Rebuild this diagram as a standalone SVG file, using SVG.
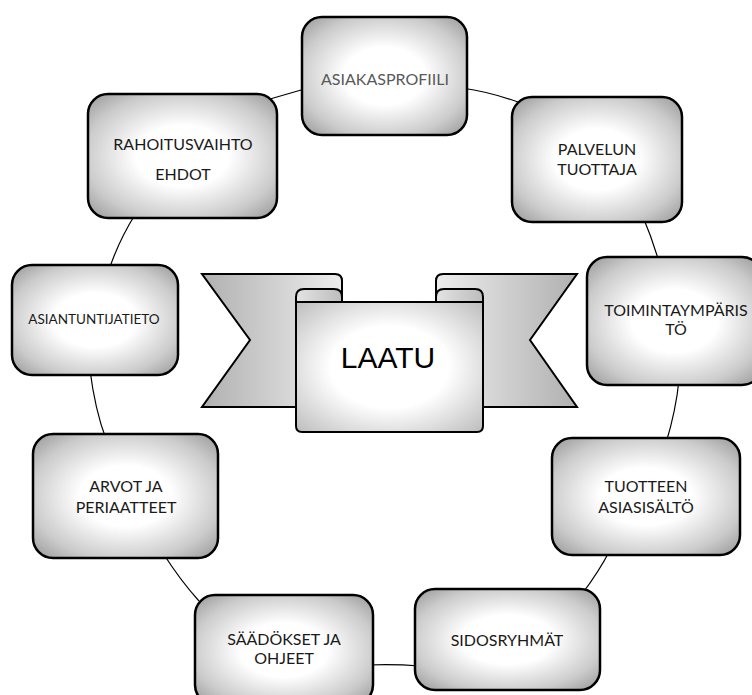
<svg xmlns="http://www.w3.org/2000/svg" width="752" height="695" viewBox="0 0 752 695">
<defs>
  <radialGradient id="boxg" cx="50%" cy="50%" r="70%">
    <stop offset="0" stop-color="#ffffff"/>
    <stop offset="0.35" stop-color="#ffffff"/>
    <stop offset="0.74" stop-color="#cbcbcb"/>
    <stop offset="1" stop-color="#979797"/>
  </radialGradient>
  <radialGradient id="panelg" cx="50%" cy="50%" r="70%">
    <stop offset="0" stop-color="#ffffff"/>
    <stop offset="0.45" stop-color="#ffffff"/>
    <stop offset="1" stop-color="#bdbdbd"/>
  </radialGradient>
  <linearGradient id="tailL" gradientUnits="userSpaceOnUse" x1="202" y1="0" x2="342" y2="0">
    <stop offset="0" stop-color="#b0b0b0"/>
    <stop offset="1" stop-color="#eeeeee"/>
  </linearGradient>
  <linearGradient id="tailR" gradientUnits="userSpaceOnUse" x1="436" y1="0" x2="577" y2="0">
    <stop offset="0" stop-color="#eeeeee"/>
    <stop offset="1" stop-color="#b0b0b0"/>
  </linearGradient>
  <linearGradient id="rollg" x1="0" y1="0" x2="1" y2="0">
    <stop offset="0" stop-color="#e4e4e4"/>
    <stop offset="1" stop-color="#bcbcbc"/>
  </linearGradient>
</defs>
<style>
  .box { fill: url(#boxg); stroke: #000; stroke-width: 2.5; }
  .conn { fill: none; stroke: #000; stroke-width: 1.2; }
  .ban { stroke: #000; stroke-width: 2; stroke-linejoin: miter; }
  .t { font-family: Lato, "Liberation Sans", sans-serif; font-size: 16px; fill: #1a1a1a; text-anchor: middle; }
  .big { font-family: "Liberation Sans", Arial, sans-serif; font-size: 30px; fill: #000; text-anchor: middle; }
</style>
<rect width="752" height="695" fill="#ffffff"/>

<g id="connectors">
  <path class="conn" d="M270,99 L308,88"/>
  <path class="conn" d="M462,88 Q490,92 518,102"/>
  <path class="conn" d="M643,217 Q652,238 659,262"/>
  <path class="conn" d="M679,380 Q676,410 666,443"/>
  <path class="conn" d="M610,550 Q600,570 582,594"/>
  <path class="conn" d="M420,666 Q394,664 368,665"/>
  <path class="conn" d="M199,601 Q180,580 163,553"/>
  <path class="conn" d="M106,439 Q95,410 90,370"/>
  <path class="conn" d="M109,270 Q118,242 136,213"/>
</g>

<g id="banner">
  <path class="ban" fill="url(#tailL)" d="M202,274 L335,274 Q342,274 342,281 L342,302 L297,302 L297,407 L202,407 L250,340 Z"/>
  <path class="ban" fill="url(#tailR)" d="M577,274 L443,274 Q436,274 436,281 L436,302 L483,302 L483,407 L577,407 L530,340 Z"/>
  <path class="ban" fill="url(#panelg)" d="M296,302 L483,302 L483,426 Q483,432 477,432 L302,432 Q296,432 296,426 Z"/>
  <path class="ban" fill="url(#rollg)" d="M296,302 L296,297 Q296,289 304,289 L334,289 Q342,289 342,297 L342,302 Z"/>
  <path class="ban" fill="url(#rollg)" d="M436,302 L436,297 Q436,289 444,289 L475,289 Q483,289 483,297 L483,302 Z"/>
  <text class="big" x="388" y="368">LAATU</text>
</g>

<g id="n-asiakasprofiili">
  <rect class="box" x="302" y="17" width="165" height="118" rx="20"/>
  <text class="t" x="385" y="85" style="fill:#595959">ASIAKASPROFIILI</text>
</g>
<g id="n-palvelun">
  <rect class="box" x="512" y="97" width="170" height="125" rx="20"/>
  <text class="t" x="597" y="155">PALVELUN</text>
  <text class="t" x="597" y="175">TUOTTAJA</text>
</g>
<g id="n-toimintaymparisto">
  <rect class="box" x="587" y="257" width="175" height="128" rx="20"/>
  <text class="t" x="676" y="316">TOIMINTAYMPÄRIS</text>
  <text class="t" x="676" y="335">TÖ</text>
</g>
<g id="n-tuotteen">
  <rect class="box" x="552" y="438" width="188" height="117" rx="20"/>
  <text class="t" x="646" y="492">TUOTTEEN</text>
  <text class="t" x="646" y="513">ASIASISÄLTÖ</text>
</g>
<g id="n-sidosryhmat">
  <rect class="box" x="415" y="589" width="185" height="101" rx="20"/>
  <text class="t" x="507" y="646">SIDOSRYHMÄT</text>
</g>
<g id="n-saadokset">
  <rect class="box" x="195" y="595" width="178" height="110" rx="20"/>
  <text class="t" x="284" y="645">SÄÄDÖKSET JA</text>
  <text class="t" x="284" y="664">OHJEET</text>
</g>
<g id="n-arvot">
  <rect class="box" x="33" y="434" width="185" height="124" rx="20"/>
  <text class="t" x="126" y="492">ARVOT JA</text>
  <text class="t" x="126" y="513">PERIAATTEET</text>
</g>
<g id="n-asiantuntijatieto">
  <rect class="box" x="12" y="265" width="166" height="110" rx="20"/>
  <text class="t" x="94" y="324" style="font-size:13.5px">ASIANTUNTIJATIETO</text>
</g>
<g id="n-rahoitus">
  <rect class="box" x="88" y="94" width="189" height="124" rx="20"/>
  <text class="t" x="183" y="150">RAHOITUSVAIHTO</text>
  <text class="t" x="183" y="180">EHDOT</text>
</g>
</svg>
